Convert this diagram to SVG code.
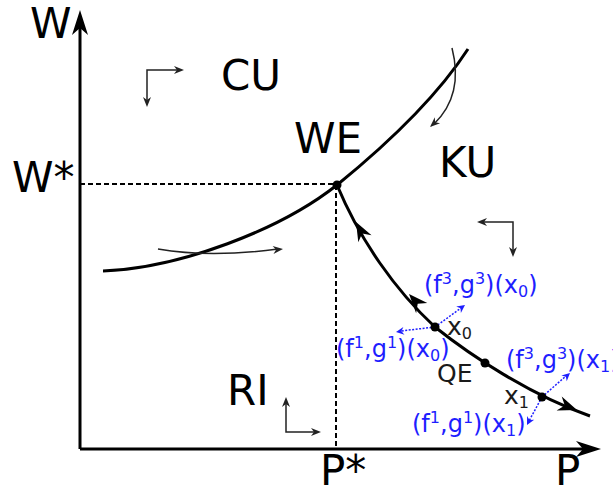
<svg xmlns="http://www.w3.org/2000/svg" xmlns:xlink="http://www.w3.org/1999/xlink" width="613" height="490" viewBox="0 0 613 490">
<style>
.big{font-family:"DejaVu Sans",sans-serif;font-size:42px;fill:#000}
.mid{font-family:"DejaVu Sans",sans-serif;font-size:25px;fill:#1a1a1a}
.blue{font-family:"DejaVu Sans",sans-serif;font-size:24px;fill:#1e1eff}
.s{font-size:16px}
.axis{stroke:#000;stroke-width:3;fill:none}
.curve{stroke:#000;stroke-width:3;fill:none}
.dash{stroke:#000;stroke-width:2;stroke-dasharray:5,3;fill:none}
.thin{stroke:#222;stroke-width:1.5;fill:none}
.bdot{stroke:#1e1eff;stroke-width:1.5;stroke-dasharray:2,1.5;fill:none}
</style>
<defs>
<path id="ahBig" d="M0,0 L-25,-8 L-18,0 L-25,8 Z" fill="#000"/>
<path id="ahMid" d="M0,0 L-19,-7.5 L-13,0 L-19,7.5 Z" fill="#000"/>
<path id="ahThin" d="M0,0 L-10,-4 L-7,0 L-10,4 Z" fill="#222"/>
<path id="ahBlue" d="M0,0 L-8,-4 L-5.5,0 L-8,4 Z" fill="#1e1eff"/>
</defs>
<g id="axes">
<line class="axis" x1="80" y1="449" x2="80" y2="18"/>
<use xlink:href="#ahBig" transform="translate(80,10) rotate(-90)"/>
<line class="axis" x1="80" y1="449" x2="592" y2="449"/>
<use xlink:href="#ahBig" transform="translate(601,449)"/>
<text class="big" x="30" y="38">W</text>
<text class="big" x="555" y="485">P</text>
<text class="big" x="12" y="192">W*</text>
<text class="big" x="320" y="485">P*</text>
</g>
<g id="connectors">
<line class="dash" x1="80" y1="184" x2="337" y2="184"/>
<line class="dash" x1="336" y1="185" x2="336" y2="449"/>
<path class="curve" d="M103,271 C180,268 280,230 337,185 C380,150 435,100 468,49"/>
<path class="curve" stroke-width="2.5" d="M337,185 C360,240 395,290 435,327 C470,355 530,395 590,416"/>
<use xlink:href="#ahMid" transform="translate(356,222) rotate(-118)"/>
<use xlink:href="#ahMid" transform="translate(409,294) rotate(-132)"/>
<use xlink:href="#ahMid" transform="translate(577,410) rotate(20)"/>
<path class="thin" d="M452,48 Q464,95 434,124"/>
<use xlink:href="#ahThin" transform="translate(430,127) rotate(138)"/>
<path class="thin" d="M158,249 Q210,258 278,249"/>
<use xlink:href="#ahThin" transform="translate(283,249) rotate(-6)"/>
<path class="thin" d="M180,70 L147,70 L147,103"/>
<use xlink:href="#ahThin" transform="translate(184,70)"/>
<use xlink:href="#ahThin" transform="translate(147,107) rotate(90)"/>
<path class="thin" d="M286,401 L286,432 L317,432"/>
<use xlink:href="#ahThin" transform="translate(286,397) rotate(-90)"/>
<use xlink:href="#ahThin" transform="translate(321,432)"/>
<path class="thin" d="M481,222 L513,222 L513,253"/>
<use xlink:href="#ahThin" transform="translate(477,222) rotate(180)"/>
<use xlink:href="#ahThin" transform="translate(513,257) rotate(90)"/>
<path class="bdot" d="M435,327 L401,331"/>
<use xlink:href="#ahBlue" transform="translate(396,332) rotate(172)"/>
<path class="bdot" d="M435,327 L461,308"/>
<use xlink:href="#ahBlue" transform="translate(465,305) rotate(-36)"/>
<path class="bdot" d="M542,397 L566,376"/>
<use xlink:href="#ahBlue" transform="translate(570,373) rotate(-42)"/>
<path class="bdot" d="M542,397 L529,421"/>
<use xlink:href="#ahBlue" transform="translate(527,425) rotate(117)"/>
</g>
<g id="CU"><text class="big" x="221" y="90">CU</text></g>
<g id="WE"><text class="big" x="294" y="153">WE</text><circle cx="337" cy="185" r="4.5"/></g>
<g id="KU"><text class="big" x="439" y="177">KU</text></g>
<g id="RI"><text class="big" x="227" y="405">RI</text></g>
<g id="x0"><circle cx="435" cy="327" r="4.5"/><text class="mid" x="447" y="335">x<tspan class="s" dy="4">0</tspan></text></g>
<g id="QE"><circle cx="485" cy="363" r="4.5"/><text class="mid" x="437" y="382">QE</text></g>
<g id="x1"><circle cx="542" cy="397" r="4.5"/><text class="mid" x="504" y="404">x<tspan class="s" dy="4">1</tspan></text></g>
<g id="labels">
<text class="blue" x="424" y="293">(f<tspan class="s" dy="-9">3</tspan><tspan dy="9">,g</tspan><tspan class="s" dy="-9">3</tspan><tspan dy="9">)(x</tspan><tspan class="s" dy="4">0</tspan><tspan dy="-4">)</tspan></text>
<text class="blue" x="336" y="357">(f<tspan class="s" dy="-9">1</tspan><tspan dy="9">,g</tspan><tspan class="s" dy="-9">1</tspan><tspan dy="9">)(x</tspan><tspan class="s" dy="4">0</tspan><tspan dy="-4">)</tspan></text>
<text class="blue" x="506" y="368">(f<tspan class="s" dy="-9">3</tspan><tspan dy="9">,g</tspan><tspan class="s" dy="-9">3</tspan><tspan dy="9">)(x</tspan><tspan class="s" dy="4">1</tspan><tspan dy="-4">)</tspan></text>
<text class="blue" x="412" y="432">(f<tspan class="s" dy="-9">1</tspan><tspan dy="9">,g</tspan><tspan class="s" dy="-9">1</tspan><tspan dy="9">)(x</tspan><tspan class="s" dy="4">1</tspan><tspan dy="-4">)</tspan></text>
</g>
</svg>
